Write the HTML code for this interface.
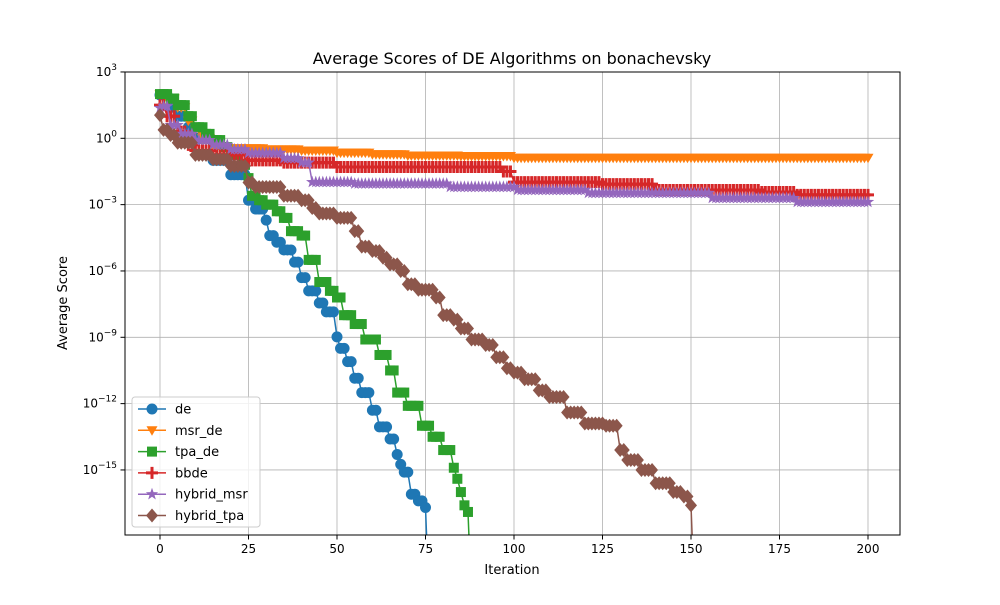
<!DOCTYPE html>
<html><head><meta charset="utf-8"><style>
body{margin:0;background:#fff;font-family:"Liberation Sans","DejaVu Sans",sans-serif}
svg text{font-family:"DejaVu Sans","Liberation Sans",sans-serif}
</style></head><body>
<svg id="chart" width="1000" height="600" xmlns="http://www.w3.org/2000/svg">
<rect width="1000" height="600" fill="#fff"/>
<g id="grid"></g>
<g id="series" clip-path="url(#clip)"></g>
<defs><clipPath id="clip"><rect x="125" y="72" width="775" height="463"/></clipPath></defs>
<rect x="125" y="72" width="775" height="463" fill="none" stroke="#000" stroke-width="1"/>
<g id="axes"></g>
<text x="512" y="64" text-anchor="middle" font-size="16">Average Scores of DE Algorithms on bonachevsky</text>
<text x="512" y="574" text-anchor="middle" font-size="13">Iteration</text>
<text x="67" y="303" text-anchor="middle" font-size="13" transform="rotate(-90 67 303)">Average Score</text>
<g id="legend"></g>
</svg>
<script>
// keyframes: [iteration, log10(score)], held until next keyframe
const deIter=[0,3,5,8,10,15,20,25,27,30,31,33,35,38,40,42,45,47,50,51,53,55,57,60,62,65,67,68,69,71,73,75];
const deLog=[1.96,1.4,1.0,0.5,0.0,-1.0,-1.65,-2.8,-3.2,-3.7,-4.4,-4.7,-5.05,-5.6,-6.3,-6.9,-7.45,-7.85,-8.98,-9.5,-10.1,-10.85,-11.5,-12.3,-13.05,-13.6,-14.3,-14.75,-15.1,-16.1,-16.4,-16.7];
const deEnd=75;
const msrIter=[0,2,5,8,10,12,15,20,30,40,50,60,70,85,100];
const msrLog=[2.0,1.8,1.4,0.8,0.4,0.0,-0.4,-0.45,-0.5,-0.55,-0.65,-0.72,-0.78,-0.8,-0.88];
const msrEnd=200;
const tpaIter=[0,3,5,8,10,13,15,18,20,23,25,26,28,30,33,35,37,40,42,45,48,50,52,55,58,62,65,67,70,74,77,80,83,84,85,86,87];
const tpaLog=[2.0,1.8,1.5,1.0,0.5,0.2,-0.08,-0.4,-0.75,-1.2,-1.8,-2.6,-2.8,-3.0,-3.3,-3.6,-4.2,-4.4,-5.5,-6.5,-6.9,-7.2,-8.0,-8.4,-9.1,-9.8,-10.5,-11.5,-12.1,-13.0,-13.5,-14.1,-14.9,-15.4,-16.0,-16.6,-16.9];
const tpaEnd=87;
const bbIter=[0,2,5,8,10,15,25,35,50,97,100,125,140,170,180];
const bbLog=[1.5,1.0,0.3,-0.3,-0.55,-0.75,-1.0,-1.1,-1.3,-1.5,-1.98,-2.07,-2.34,-2.43,-2.56];
const bbEnd=200;
const hmIter=[0,1,3,6,10,15,20,25,35,40,43,55,82,101,121,156,180];
const hmLog=[1.37,1.45,0.6,0.2,-0.08,-0.3,-0.5,-0.66,-0.9,-1.1,-1.98,-2.05,-2.2,-2.34,-2.47,-2.7,-2.88];
const hmEnd=200;
const htIter=[0,1,3,5,10,15,20,25,27,35,40,43,45,50,55,57,60,63,65,68,70,73,78,80,83,85,88,92,95,98,100,103,107,110,115,120,126,130,132,136,140,145,148,150];
const htLog=[1.05,0.38,0.15,-0.2,-0.75,-0.95,-1.25,-2.0,-2.2,-2.6,-2.8,-3.15,-3.4,-3.6,-4.2,-4.9,-5.1,-5.4,-5.7,-6.0,-6.6,-6.85,-7.2,-8.0,-8.2,-8.6,-9.1,-9.35,-9.9,-10.4,-10.6,-10.9,-11.4,-11.7,-12.4,-12.9,-13.0,-14.1,-14.55,-15.0,-15.6,-16.0,-16.2,-16.6];
const htEnd=150;
const xTicks=[0,25,50,75,100,125,150,175,200];
const yTickExp=[3,0,-3,-6,-9,-12,-15];
const seriesNames=["de","msr_de","tpa_de","bbde","hybrid_msr","hybrid_tpa"];

const NS="http://www.w3.org/2000/svg";
const X=v=>160+v*3.54;
const Y=l=>138.3-l*22.11;
function mk(tag,attrs,parent){const e=document.createElementNS(NS,tag);for(const k in attrs)e.setAttribute(k,attrs[k]);parent.appendChild(e);return e;}
const grid=document.getElementById('grid'),axes=document.getElementById('axes'),ser=document.getElementById('series'),leg=document.getElementById('legend');
xTicks.forEach(t=>{
  const gl=mk('line',{x1:X(t),x2:X(t),y1:72,y2:535,stroke:'#b0b0b0','stroke-width':0.8},grid);
  
  
  mk('line',{x1:X(t),x2:X(t),y1:535,y2:539.5,stroke:'#000'},axes);
  const tx=mk('text',{x:X(t),y:553,'text-anchor':'middle','font-size':12},axes);
  tx.textContent=t;
  
  
});
yTickExp.forEach(e=>{
  const gl=mk('line',{x1:125,x2:900,y1:Y(e),y2:Y(e),stroke:'#b0b0b0','stroke-width':0.8},grid);
  
  
  mk('line',{x1:120.5,x2:125,y1:Y(e),y2:Y(e),stroke:'#000'},axes);
  const tx=mk('text',{x:117,y:Y(e)+4,'text-anchor':'end','font-size':12},axes);
  tx.innerHTML='10<tspan dy="-6" font-size="9">'+(e<0?'\u2212'+(-e):e)+'</tspan>';
  
  
});
function expand(it,lg,end){const out=[];let k=0;for(let i=0;i<=end;i++){while(k+1<it.length&&it[k+1]<=i)k++;out.push(lg[k]);}return out;}
function marker(type,cx,cy,color,p){
  let e;
  if(type==='o')e=mk('circle',{cx,cy,r:5.5,fill:color},p);
  else if(type==='v')e=mk('polygon',{points:`${cx-5.5},${cy-4} ${cx+5.5},${cy-4} ${cx},${cy+5.5}`,fill:color},p);
  else if(type==='s')e=mk('rect',{x:cx-5,y:cy-5,width:10,height:10,fill:color},p);
  else if(type==='P')e=mk('path',{d:`M${cx-6},${cy}H${cx+6}M${cx},${cy-6}V${cy+6}`,stroke:color,'stroke-width':3},p);
  else if(type==='*'){let pts=[];for(let i=0;i<10;i++){const r=i%2?2.6:6.5,a=-Math.PI/2+i*Math.PI/5;pts.push((cx+r*Math.cos(a)).toFixed(1)+','+(cy+r*Math.sin(a)).toFixed(1));}e=mk('polygon',{points:pts.join(' '),fill:color},p);}
  else e=mk('polygon',{points:`${cx},${cy-7} ${cx+6},${cy} ${cx},${cy+7} ${cx-6},${cy}`,fill:color},p);
  return e;
}
const defs=[
 [deIter,deLog,deEnd,'#1f77b4','o',true],
 [msrIter,msrLog,msrEnd,'#ff7f0e','v',false],
 [tpaIter,tpaLog,tpaEnd,'#2ca02c','s',true],
 [bbIter,bbLog,bbEnd,'#d62728','P',false],
 [hmIter,hmLog,hmEnd,'#9467bd','*',false],
 [htIter,htLog,htEnd,'#8c564b','D',true]];
defs.forEach((d,si)=>{
  const vals=expand(d[0],d[1],d[2]);
  const g=mk('g',{},ser);
  
  
  let pts=vals.map((v,i)=>X(i)+','+Y(v));
  if(d[5])pts.push(X(d[2]+1)+',600');
  const pl=mk('polyline',{points:pts.join(' '),fill:'none',stroke:d[3],'stroke-width':1.5},g);
  
  
  vals.forEach((v,i)=>{const m=marker(d[4],X(i),Y(v),d[3],g);
    
    });
});
// legend
const box=mk('rect',{x:132,y:397,width:128,height:130,rx:3,fill:'#fff','fill-opacity':0.8,stroke:'#ccc'},leg);


defs.forEach((d,i)=>{
  const y=409+i*21.3;
  const g=mk('g',{},leg);
  
  
  mk('line',{x1:138,x2:166,y1:y,y2:y,stroke:d[3],'stroke-width':1.5},g);
  marker(d[4],152,y,d[3],g);
  const t=mk('text',{x:175,y:y+4.5,'font-size':13},g);
  t.textContent=seriesNames[i];
});
</script>
</body></html>
